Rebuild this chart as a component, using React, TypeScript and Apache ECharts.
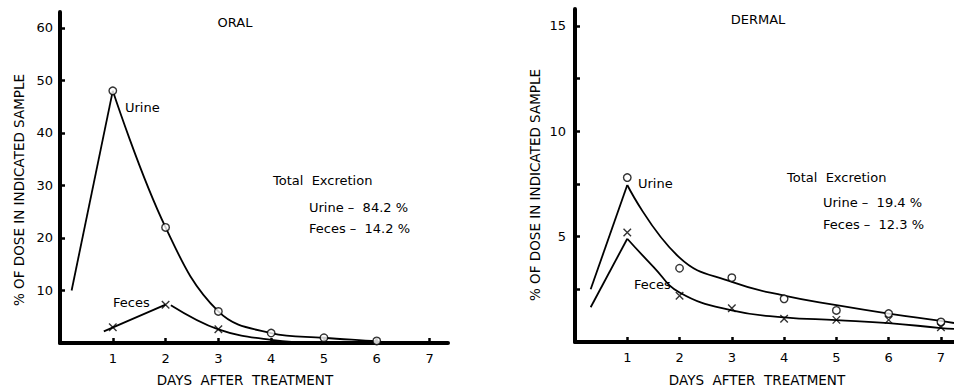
import React, { useEffect, useRef } from "react";
import * as echarts from "echarts";

// ---- Data ----
const dayTicks = [1, 2, 3, 4, 5, 6, 7];

// ORAL panel
const oralYTicks = [10, 20, 30, 40, 50, 60];
const oralUrineDays = [1, 2, 3, 4, 5, 6];
const oralUrineObs = [48, 22, 6, 1.9, 1.0, 0.4];
const oralFecesDays = [1, 2, 3];
const oralFecesObs = [3.0, 7.3, 2.6];
// hand-drawn curves
const oralUrineRiseX = [0.22, 1];
const oralUrineRiseY = [10, 48];
const oralUrineFallX = [1, 2, 3, 4, 5, 6, 6.3];
const oralUrineFallY = [48, 22, 6, 1.9, 1.0, 0.3, 0];
const oralFecesRiseX = [0.83, 2];
const oralFecesRiseY = [2.2, 7.3];
const oralFecesFallX = [2.1, 3, 4, 5];
const oralFecesFallY = [7.2, 2.6, 0.6, 0];

// DERMAL panel
const dermalYTicks = [2.5, 5, 7.5, 10, 12.5, 15];
const dermalYLabels = [5, 10, 15];
const dermalDays = [1, 2, 3, 4, 5, 6, 7];
const dermalUrineObs = [7.8, 3.5, 3.05, 2.05, 1.5, 1.35, 0.95];
const dermalFecesObs = [5.2, 2.2, 1.6, 1.1, 1.05, 1.05, 0.7];
const dermalUrineRiseX = [0.3, 1];
const dermalUrineRiseY = [2.5, 7.45];
const dermalUrineFallX = [1, 2, 3, 4, 5, 6, 7, 7.25];
const dermalUrineFallY = [7.45, 4.0, 2.85, 2.2, 1.75, 1.35, 1.0, 0.9];
const dermalFecesRiseX = [0.3, 1];
const dermalFecesRiseY = [1.65, 4.9];
const dermalFecesFallX = [1, 1.5, 2, 3, 4, 5, 6, 7, 7.25];
const dermalFecesFallY = [4.9, 3.57, 2.35, 1.5, 1.17, 1.04, 0.9, 0.66, 0.62];

const oralTotals = ["Urine –  84.2 %", "Feces –  14.2 %"];
const dermalTotals = ["Urine –  19.4 %", "Feces –  12.3 %"];

const FONT = "DejaVu Sans";
const INK = "#000";
const X_MARK = "path://M0 0L10 10M10 0L0 10";

const pairs = (xs: number[], ys: number[]) => xs.map((x, i) => [x, ys[i]]);

function curve(xs: number[], ys: number[], gi: number, smooth: boolean | number) {
  return {
    type: "line",
    xAxisIndex: gi,
    yAxisIndex: gi,
    data: pairs(xs, ys),
    smooth,
    symbol: "none",
    lineStyle: { color: INK, width: 1.8 },
    z: 3,
  };
}

function marks(xs: number[], ys: number[], gi: number, symbol: string) {
  return {
    type: "scatter",
    xAxisIndex: gi,
    yAxisIndex: gi,
    data: pairs(xs, ys),
    symbol,
    symbolSize: 7.5,
    itemStyle:
      symbol === "circle"
        ? { color: "#fff", borderColor: INK, borderWidth: 1.4 }
        : { color: "transparent", borderColor: INK, borderWidth: 1.4 },
    z: 4,
  };
}

function txt(text: string, x: number, y: number, opts: any = {}) {
  return {
    type: "text",
    x,
    y,
    rotation: opts.rotation || 0,
    style: {
      text,
      fill: INK,
      font: `${opts.size || 13}px "${FONT}"`,
      textAlign: opts.align || "left",
      textVerticalAlign: "middle",
    },
    z: 10,
  };
}

export default function App() {
  const ref = useRef<HTMLDivElement>(null);
  useEffect(() => {
    if (!ref.current) return;
    const chart = echarts.init(ref.current, null, { renderer: "svg" });

    const axisCommon = {
      type: "value",
      splitLine: { show: false },
      axisLine: { show: true, onZero: false, lineStyle: { color: INK, width: 4 } },
      axisTick: { show: true, inside: true, length: 5, lineStyle: { color: INK, width: 2.5 } },
      axisLabel: { color: INK, fontFamily: FONT, fontSize: 13 },
    };

    const option: any = {
      animation: false,
      backgroundColor: "#fff",
      grid: [
        { left: 60, top: 12, width: 388, height: 331 },
        { left: 575, top: 9, width: 380, height: 333 },
      ],
      xAxis: [
        {
          ...axisCommon,
          gridIndex: 0,
          min: 0,
          max: 7.35,
          axisTick: { ...axisCommon.axisTick, customValues: dayTicks },
          axisLabel: { ...axisCommon.axisLabel, margin: 9, customValues: dayTicks },
        },
        {
          ...axisCommon,
          gridIndex: 1,
          min: 0,
          max: 7.25,
          axisTick: { ...axisCommon.axisTick, customValues: dayTicks },
          axisLabel: { ...axisCommon.axisLabel, margin: 9, customValues: dayTicks },
        },
      ],
      yAxis: [
        {
          ...axisCommon,
          gridIndex: 0,
          min: 0,
          max: 63,
          axisTick: { ...axisCommon.axisTick, customValues: oralYTicks },
          axisLabel: { ...axisCommon.axisLabel, margin: 7, customValues: oralYTicks },
        },
        {
          ...axisCommon,
          gridIndex: 1,
          min: 0,
          max: 15.8,
          axisTick: { ...axisCommon.axisTick, customValues: dermalYTicks },
          axisLabel: { ...axisCommon.axisLabel, margin: 9, customValues: dermalYLabels },
        },
      ],
      series: [
        curve(oralUrineRiseX, oralUrineRiseY, 0, false),
        curve(oralUrineFallX, oralUrineFallY, 0, 0.4),
        curve(oralFecesRiseX, oralFecesRiseY, 0, false),
        curve(oralFecesFallX, oralFecesFallY, 0, 0.4),
        marks(oralUrineDays, oralUrineObs, 0, "circle"),
        marks(oralFecesDays, oralFecesObs, 0, X_MARK),
        curve(dermalUrineRiseX, dermalUrineRiseY, 1, false),
        curve(dermalUrineFallX, dermalUrineFallY, 1, 0.45),
        curve(dermalFecesRiseX, dermalFecesRiseY, 1, false),
        curve(dermalFecesFallX, dermalFecesFallY, 1, 0.45),
        marks(dermalDays, dermalUrineObs, 1, "circle"),
        marks(dermalDays, dermalFecesObs, 1, X_MARK),
      ],
      graphic: [
        // ORAL panel
        txt("ORAL", 235, 22, { align: "center" }),
        txt("Urine", 125, 107),
        txt("Feces", 113, 302),
        txt("Total  Excretion", 273, 180),
        txt(oralTotals[0], 309, 207),
        txt(oralTotals[1], 309, 228),
        txt("% OF DOSE IN INDICATED SAMPLE", 19, 190, { align: "center", rotation: Math.PI / 2, size: 13.5 }),
        txt("DAYS  AFTER  TREATMENT", 245, 380, { align: "center", size: 13.5 }),
        // DERMAL panel
        txt("DERMAL", 758, 19, { align: "center" }),
        txt("Urine", 638, 183),
        txt("Feces", 634, 284),
        txt("Total  Excretion", 787, 177),
        txt(dermalTotals[0], 823, 202),
        txt(dermalTotals[1], 823, 224),
        txt("% OF DOSE IN INDICATED SAMPLE", 535, 185, { align: "center", rotation: Math.PI / 2, size: 13.5 }),
        txt("DAYS  AFTER  TREATMENT", 757, 380, { align: "center", size: 13.5 }),
      ],
    };
    chart.setOption(option);
    return () => chart.dispose();
  }, []);

  return (
    <div
      ref={ref}
      style={{ position: "absolute", left: 0, top: 0, width: 954, height: 389, background: "#fff" }}
    />
  );
}
